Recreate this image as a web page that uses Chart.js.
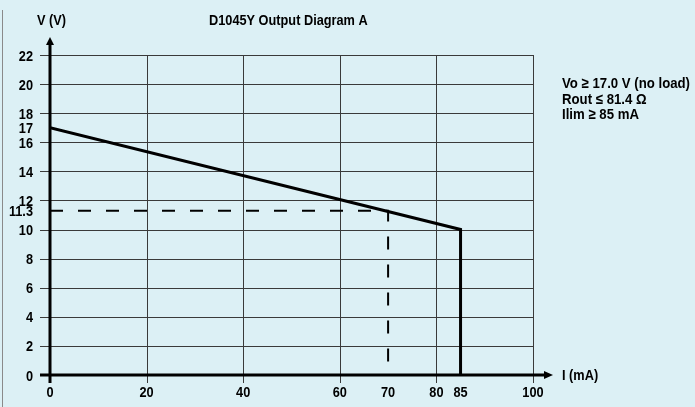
<!DOCTYPE html>
<html>
<head>
<meta charset="utf-8">
<script src="https://cdn.jsdelivr.net/npm/chart.js@4.4.1/dist/chart.umd.min.js"></script>
<style>
  html, body { margin: 0; padding: 0; background: #dcf0f5; }
  #wrap { width: 695px; height: 407px; position: relative; }
</style>
</head>
<body>
<div id="wrap"><canvas id="myChart" width="695" height="407"></canvas></div>
<script>
// output curve: open circuit voltage down to current limit
let curveI = [0, 85, 85]
let curveV = [17, 10, 0]

// the dashed 70 mA operating point
let markI = [0, 70, 70]
let markV = [11.3, 11.3, 0]

let xTicks = [0, 20, 40, 60, 70, 80, 85, 100]
let yTicks = [0, 2, 4, 6, 8, 10, 11.3, 12, 14, 16, 17, 18, 20, 22]
let xGrid = [20, 40, 60, 80, 100]
let yGrid = [0, 2, 4, 6, 8, 10, 12, 14, 16, 18, 20, 22]

let notes = ['Vo \u2265 17.0 V (no load)', 'Rout \u2264 81.4 \u03A9', 'Ilim \u2265 85 mA']

const FAMILY = '"Liberation Sans", Arial, sans-serif'

function toPoints(xs, ys) {
    return xs.map((x, i) => ({ x: x, y: ys[i] }))
}

// bold text squeezed horizontally, the original uses a narrow face
function narrowText(ctx, text, x, y, size, squeeze, align) {
    ctx.save()
    ctx.font = 'bold ' + size + 'px ' + FAMILY
    ctx.textAlign = align || 'left'
    ctx.textBaseline = 'alphabetic'
    ctx.fillStyle = '#000'
    ctx.translate(x, y)
    ctx.scale(squeeze, 1)
    ctx.fillText(text, 0, 0)
    ctx.restore()
}

// grid, axes, arrows and texts
const decorations = {
    id: 'decorations',
    beforeDatasetsDraw(chart) {
        const ctx = chart.ctx
        const xs = chart.scales.x
        const ys = chart.scales.y
        const left = xs.getPixelForValue(0)
        const right = xs.getPixelForValue(100)
        const top = ys.getPixelForValue(22)
        const bottom = ys.getPixelForValue(0)

        ctx.save()
        ctx.strokeStyle = '#3a3a3a'
        ctx.lineWidth = 1
        yGrid.forEach(v => {
            let y = Math.round(ys.getPixelForValue(v)) + 0.5
            ctx.beginPath()
            ctx.moveTo(left - 10, y)
            ctx.lineTo(right, y)
            ctx.stroke()
        })
        xGrid.forEach(v => {
            let x = Math.round(xs.getPixelForValue(v)) + 0.5
            ctx.beginPath()
            ctx.moveTo(x, top)
            ctx.lineTo(x, bottom + 8)
            ctx.stroke()
        })
        ctx.restore()
    },
    afterDatasetsDraw(chart) {
        const ctx = chart.ctx
        const xs = chart.scales.x
        const ys = chart.scales.y
        const left = xs.getPixelForValue(0)
        const right = xs.getPixelForValue(100)
        const top = ys.getPixelForValue(22)
        const bottom = ys.getPixelForValue(0)

        ctx.save()
        ctx.strokeStyle = '#000'
        ctx.fillStyle = '#000'
        ctx.lineWidth = 3
        // y axis
        ctx.beginPath()
        ctx.moveTo(left, bottom + 8)
        ctx.lineTo(left, top - 12)
        ctx.stroke()
        ctx.beginPath()
        ctx.moveTo(left, top - 18)
        ctx.lineTo(left - 4, top - 10)
        ctx.lineTo(left + 4, top - 10)
        ctx.closePath()
        ctx.fill()
        // x axis
        ctx.beginPath()
        ctx.moveTo(left - 10, bottom)
        ctx.lineTo(right + 12, bottom)
        ctx.stroke()
        ctx.beginPath()
        ctx.moveTo(right + 20, bottom)
        ctx.lineTo(right + 11, bottom - 4)
        ctx.lineTo(right + 11, bottom + 4)
        ctx.closePath()
        ctx.fill()

        // tick labels, placed by the scales
        xs.ticks.forEach(t => {
            narrowText(ctx, String(t.value), xs.getPixelForValue(t.value), bottom + 22, 15, 0.85, 'center')
        })
        ys.ticks.forEach(t => {
            narrowText(ctx, String(t.value), 33, ys.getPixelForValue(t.value) + 5.5, 15, 0.85, 'right')
        })

        narrowText(ctx, 'V (V)', 37, 25, 15, 0.85)
        narrowText(ctx, 'D1045Y Output Diagram A', 209, 25, 15, 0.85)
        narrowText(ctx, 'I (mA)', 562, bottom + 5, 15, 0.85)
        notes.forEach((t, i) => narrowText(ctx, t, 562, 88 + i * 15.5, 15, 0.88))

        // frame line on the left
        ctx.strokeStyle = '#8a8a8a'
        ctx.lineWidth = 1
        ctx.beginPath()
        ctx.moveTo(2.5, 10)
        ctx.lineTo(2.5, 407)
        ctx.stroke()
        ctx.restore()
    }
}

const data = {
    datasets: [{
        label: 'Output',
        data: toPoints(curveI, curveV),
        showLine: true,
        borderColor: '#000',
        borderWidth: 3,
        pointRadius: 0,
        fill: false,
        tension: 0
    },
    {
        label: 'Operating point',
        data: toPoints(markI, markV),
        showLine: true,
        borderColor: '#000',
        borderWidth: 2,
        borderDash: [13, 15],
        pointRadius: 0,
        fill: false,
        tension: 0
    }]
}

const config = {
    type: 'scatter',
    data: data,
    options: {
        responsive: false,
        animation: false,
        layout: { padding: { top: 55, right: 162, left: 0, bottom: 0 } },
        plugins: {
            legend: { display: false },
            tooltip: { enabled: false }
        },
        scales: {
            x: {
                type: 'linear',
                min: 0,
                max: 100,
                afterBuildTicks: axis => { axis.ticks = xTicks.map(v => ({ value: v })) },
                afterFit: axis => { axis.height = 32 },
                grid: { display: false },
                border: { display: false },
                ticks: { display: false }
            },
            y: {
                type: 'linear',
                min: 0,
                max: 22,
                afterBuildTicks: axis => { axis.ticks = yTicks.map(v => ({ value: v })) },
                afterFit: axis => { axis.width = 50 },
                grid: { display: false },
                border: { display: false },
                ticks: { display: false }
            }
        }
    },
    plugins: [decorations]
}

let myChart = new Chart(document.getElementById('myChart'), config)
</script>
</body>
</html>
